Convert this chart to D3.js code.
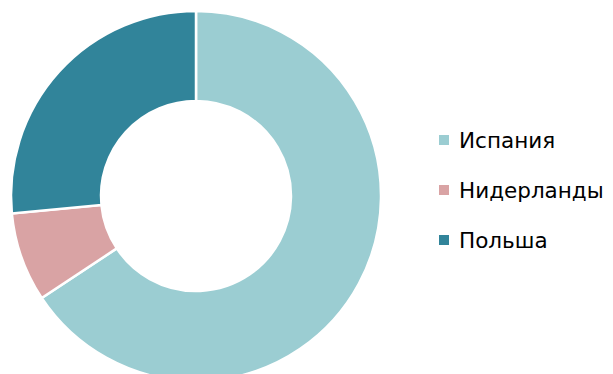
<!DOCTYPE html>
<html>
<head>
<meta charset="utf-8">
<script src="https://cdn.jsdelivr.net/npm/d3@7"></script>
<style>
  body { margin: 0; background: #fff; }
  svg { display: block; }
</style>
</head>
<body>
<div id="chart"></div>
<script>
// donut: share by country
let countries = ['Испания', 'Нидерланды', 'Польша']
let shares = [65.7, 7.8, 26.5]
let colors = ['#9BCDD2', '#D9A3A4', '#31849A']

let width = 613, height = 374
let svg = d3.select('#chart').append('svg')
    .attr('width', width)
    .attr('height', height)

let color = d3.scaleOrdinal().domain(countries).range(colors)

let pie = d3.pie().sort(null).value(d => d.value)
let arc = d3.arc().innerRadius(95).outerRadius(185)

let data = countries.map((c, i) => ({ name: c, value: shares[i] }))

let g = svg.append('g').attr('transform', 'translate(196,196)')
g.selectAll('path')
    .data(pie(data))
    .enter()
    .append('path')
    .attr('d', arc)
    .attr('fill', d => color(d.data.name))
    .attr('stroke', '#fff')
    .attr('stroke-width', 2.5)

// legend on the right
let legendY = d3.scalePoint().domain(countries).range([140, 240])
let legend = svg.selectAll('.legend')
    .data(countries)
    .enter()
    .append('g')
    .attr('class', 'legend')
    .attr('transform', d => `translate(439,${legendY(d)})`)

legend.append('rect')
    .attr('x', 0).attr('y', -5)
    .attr('width', 10).attr('height', 10)
    .attr('fill', d => color(d))

legend.append('text')
    .attr('x', 20).attr('y', 7.5)
    .attr('font-family', 'DejaVu Sans')
    .attr('font-size', 21.5)
    .attr('fill', '#000')
    .text(d => d)
</script>
</body>
</html>
